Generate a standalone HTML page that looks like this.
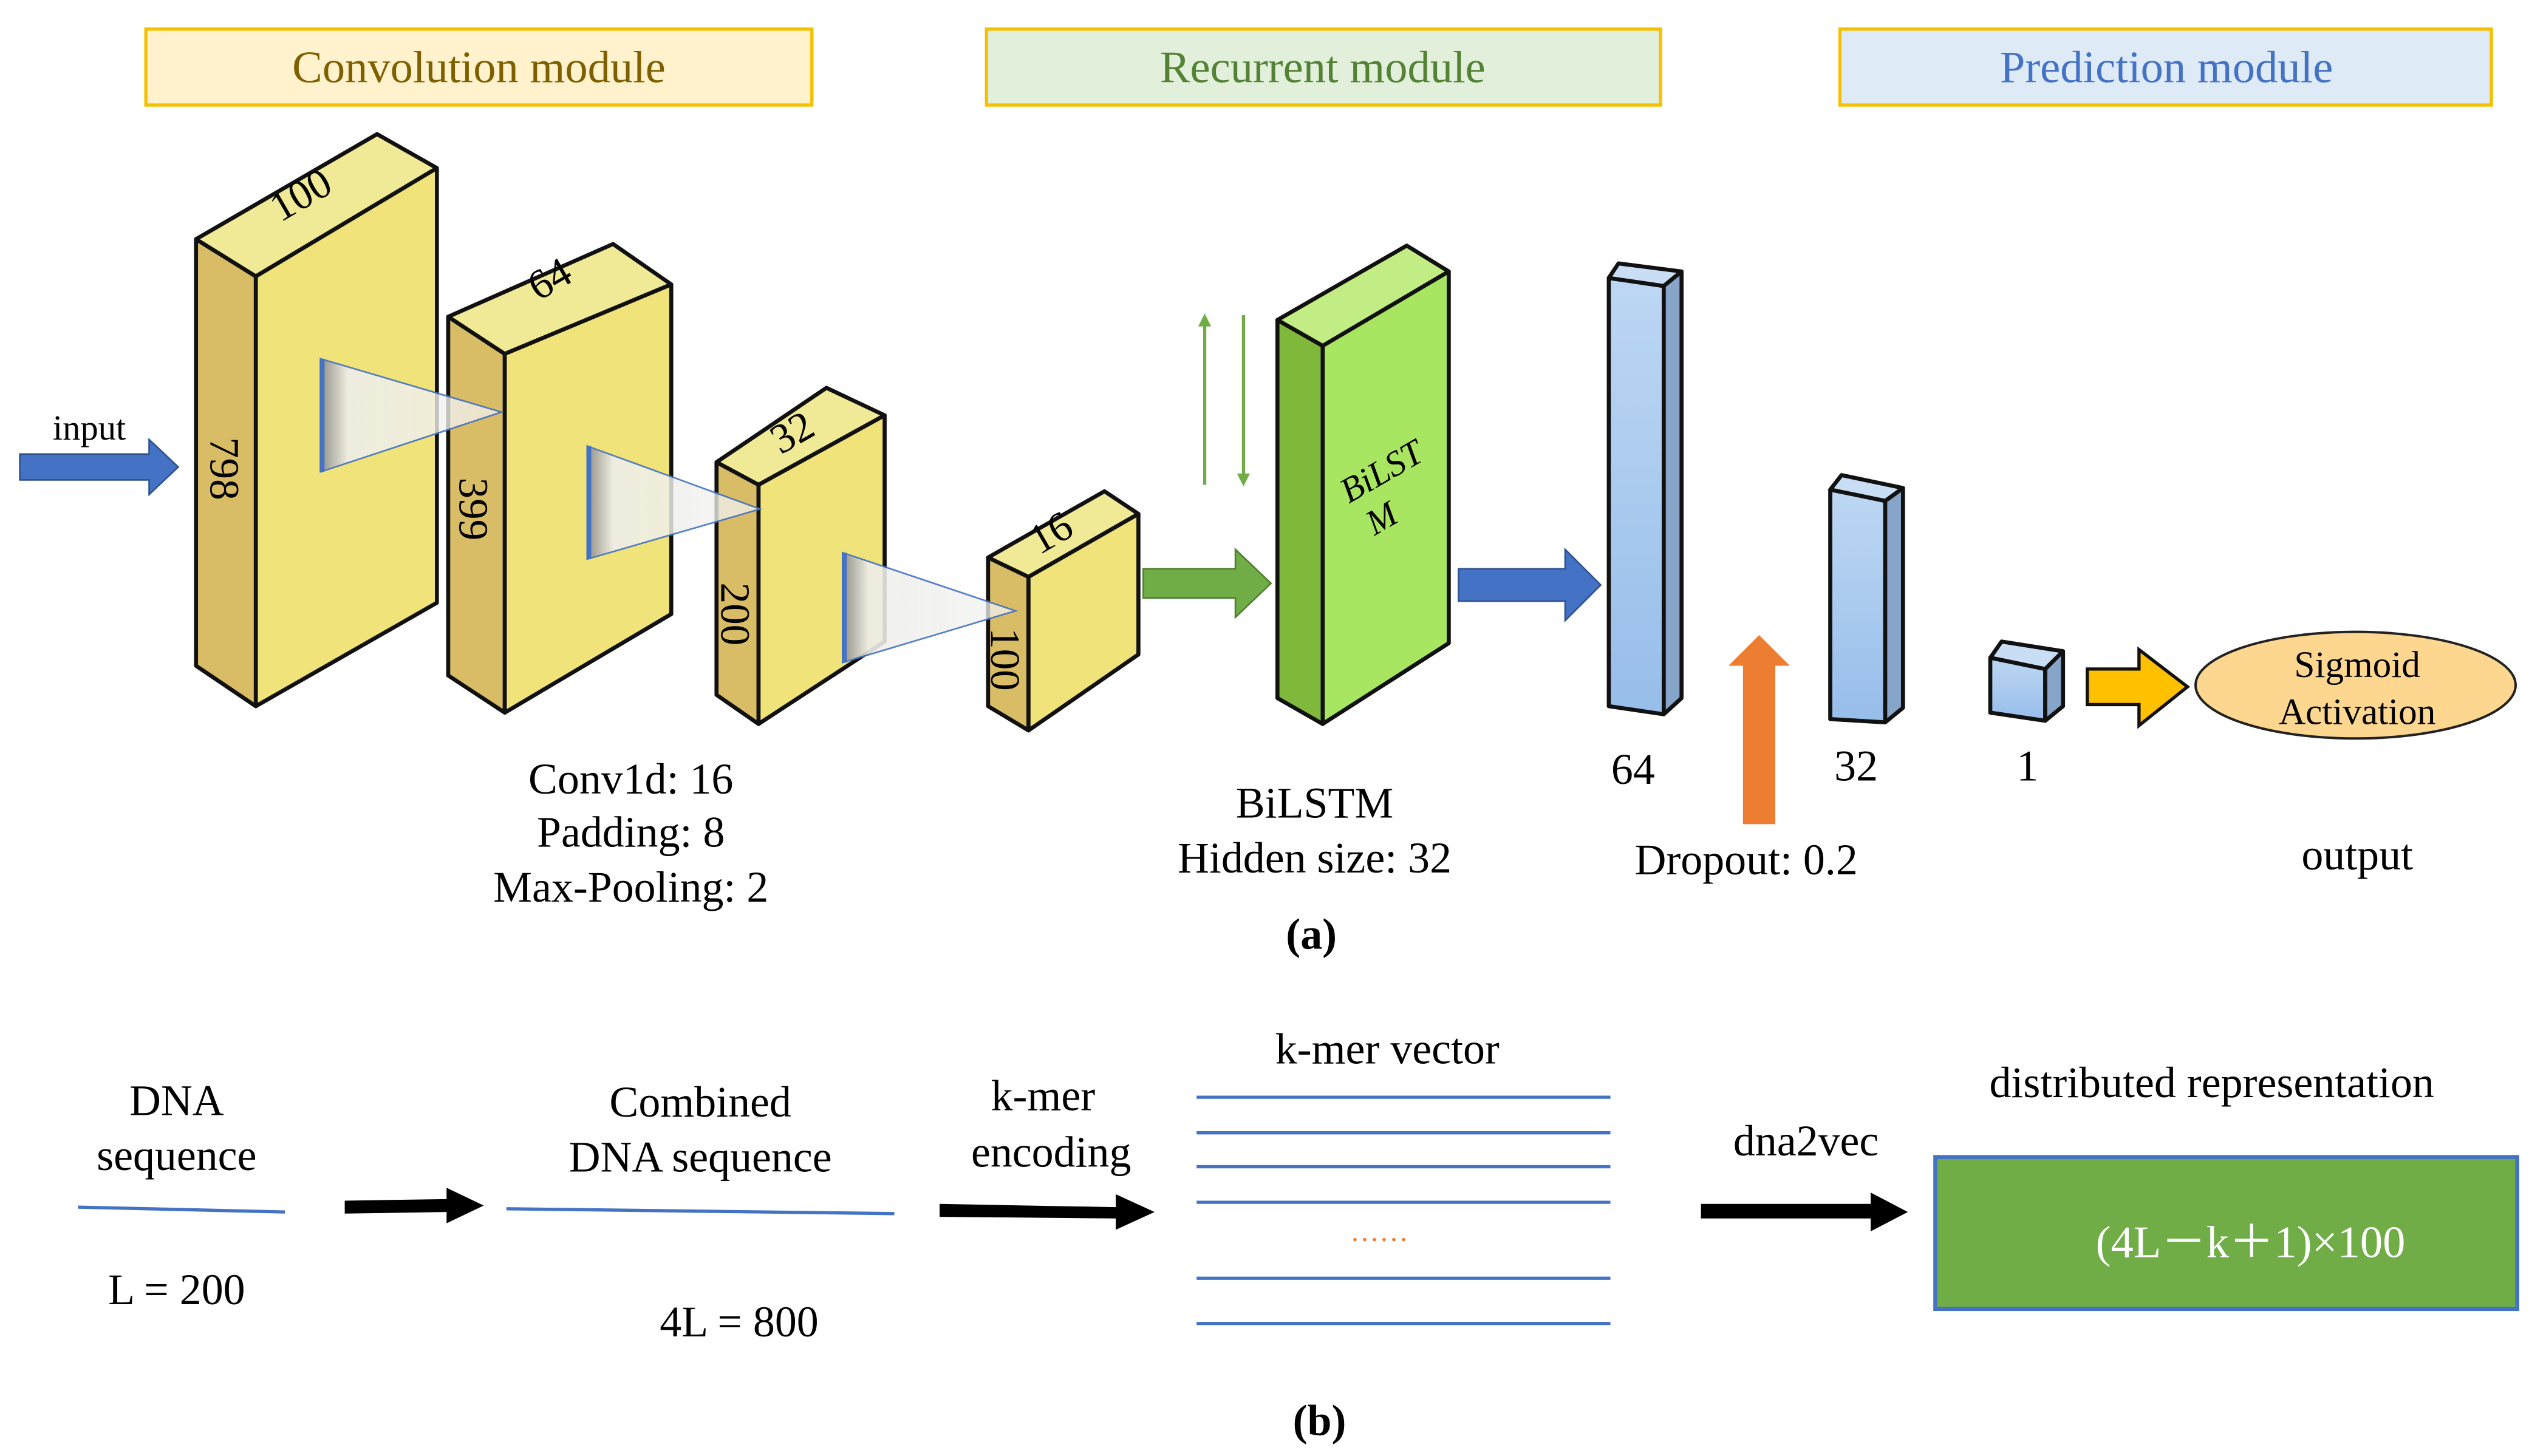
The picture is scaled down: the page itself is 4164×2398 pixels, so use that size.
<!DOCTYPE html>
<html><head><style>html,body{margin:0;padding:0;background:#fff;width:4164px;height:2398px;overflow:hidden}</style></head>
<body>
<svg width="4164" height="2398" viewBox="0 0 1564 901" xmlns="http://www.w3.org/2000/svg" font-family="Liberation Serif, serif">
<defs>
<linearGradient id="bl" x1="0" y1="0" x2="0" y2="1"><stop offset="0" stop-color="#bdd7f3"/><stop offset="1" stop-color="#97bdea"/></linearGradient>
<linearGradient id="tri" x1="0" y1="0" x2="1" y2="0"><stop offset="0" stop-color="#888"/><stop offset="0.15" stop-color="#eeeeea"/><stop offset="1" stop-color="#f2f2f2" stop-opacity="0.8"/></linearGradient>
</defs>
<rect x="90" y="18" width="412" height="47" fill="#fff2cc" stroke="#f5c000" stroke-width="2"/>
<text x="296" y="51" font-size="28" fill="#7f6000" text-anchor="middle">Convolution module</text>
<rect x="610" y="18" width="417" height="47" fill="#e2efda" stroke="#f5c000" stroke-width="2"/>
<text x="818" y="51" font-size="28" fill="#548235" text-anchor="middle">Recurrent module</text>
<rect x="1138" y="18" width="403" height="47" fill="#deebf7" stroke="#f5c000" stroke-width="2"/>
<text x="1340" y="51" font-size="28" fill="#4472c4" text-anchor="middle">Prediction module</text>

<text x="55" y="272" font-size="22" text-anchor="middle">input</text>
<polygon points="12,281 92,281 92,272 110,289 92,306 92,297 12,297" fill="#4472c4" stroke="#2f528f" stroke-width="1"/>

<g stroke="#111" stroke-width="2.5" stroke-linejoin="round">
<polygon points="121,148 158,171 158,437 121,412" fill="#d9bd66"/>
<polygon points="121,148 233,83 270,104 158,171" fill="#f0ea97"/>
<polygon points="158,171 270,104 270,373 158,437" fill="#f0e37a"/>
<polygon points="277,196 312,219 312,441 277,418" fill="#d9bd66"/>
<polygon points="277,196 379,151 415,176 312,219" fill="#f0ea97"/>
<polygon points="312,219 415,176 415,380 312,441" fill="#f0e37a"/>
<polygon points="443,286 469,300 469,448 443,430" fill="#d9bd66"/>
<polygon points="443,286 511,240 547,257 469,300" fill="#f0ea97"/>
<polygon points="469,300 547,257 547,397 469,448" fill="#f0e37a"/>
<polygon points="611,345 636,357 636,452 611,437" fill="#d9bd66"/>
<polygon points="611,345 683,304 704,318 636,357" fill="#f0ea97"/>
<polygon points="636,357 704,318 704,405 636,452" fill="#f0e37a"/>
</g>
<g stroke="#4472c4" stroke-width="1">
<polygon points="198,222 310,255 198,292" fill="url(#tri)" opacity="0.9"/>
<polygon points="363,276 470,315 363,346" fill="url(#tri)" opacity="0.9"/>
<polygon points="521,342 628,378 521,410" fill="url(#tri)" opacity="0.9"/>
</g>
<line x1="199" y1="222" x2="199" y2="292" stroke="#4472c4" stroke-width="3"/>
<line x1="364" y1="276" x2="364" y2="346" stroke="#4472c4" stroke-width="3"/>
<line x1="522" y1="342" x2="522" y2="410" stroke="#4472c4" stroke-width="3"/>
<g font-size="26">
<text transform="translate(130,290) rotate(90)" text-anchor="middle">798</text>
<text transform="translate(284,315) rotate(90)" text-anchor="middle">399</text>
<text transform="translate(446,380) rotate(90)" text-anchor="middle">200</text>
<text transform="translate(613,408) rotate(90)" text-anchor="middle">100</text>
<text transform="translate(190,128) rotate(-30)" text-anchor="middle">100</text>
<text transform="translate(344,180) rotate(-30)" text-anchor="middle">64</text>
<text transform="translate(494,275) rotate(-30)" text-anchor="middle">32</text>
<text transform="translate(654,337) rotate(-30)" text-anchor="middle">16</text>
</g>
<g font-size="27" text-anchor="middle">
<text x="390" y="491">Conv1d: 16</text>
<text x="390" y="524">Padding: 8</text>
<text x="390" y="558">Max-Pooling: 2</text>
<text x="813" y="506">BiLSTM</text>
<text x="813" y="540">Hidden size: 32</text>
<text x="1010" y="485">64</text>
<text x="1148" y="483">32</text>
<text x="1254" y="483">1</text>
<text x="1080" y="541">Dropout: 0.2</text>
<text x="1458" y="538">output</text>
<text x="811" y="587" font-weight="bold">(a)</text>
</g>

<polygon points="707,352 764,352 764,340 786,361 764,382 764,370 707,370" fill="#70ad47" stroke="#507e32" stroke-width="1"/>
<g stroke="#70ad47" stroke-width="2" fill="#70ad47">
<line x1="745" y1="300" x2="745" y2="200"/><polygon points="741,202 749,202 745,194" stroke="none"/>
<line x1="769" y1="195" x2="769" y2="295"/><polygon points="765,293 773,293 769,301" stroke="none"/>
</g>
<g stroke="#111" stroke-width="2.5" stroke-linejoin="round">
<polygon points="790,198 818,214 818,448 790,432" fill="#7fb83a"/>
<polygon points="790,198 870,152 896,168 818,214" fill="#c2ec84"/>
<polygon points="818,214 896,168 896,398 818,448" fill="#a8e661"/>
</g>
<text transform="translate(858,298) rotate(-30)" font-size="22" font-style="italic" text-anchor="middle">BiLST</text>
<text transform="translate(858,327) rotate(-30)" font-size="22" font-style="italic" text-anchor="middle">M</text>
<polygon points="902,352 968,352 968,340 990,362 968,384 968,372 902,372" fill="#4472c4" stroke="#2f528f" stroke-width="1"/>
<g stroke="#111" stroke-width="2.5" stroke-linejoin="round">
<polygon points="995,172 1029,177 1029,442 995,437" fill="url(#bl)"/>
<polygon points="995,172 1001,163 1040,168 1029,177" fill="#c9def5"/>
<polygon points="1029,177 1040,168 1040,432 1029,442" fill="#87a5c8"/>
<polygon points="1132,303 1139,294 1177,302 1166,310" fill="#c9def5"/>
<polygon points="1132,303 1166,310 1166,447 1132,445" fill="url(#bl)"/>
<polygon points="1166,310 1177,302 1177,438 1166,447" fill="#87a5c8"/>
<polygon points="1231,407 1265,414 1265,446 1231,441" fill="url(#bl)"/>
<polygon points="1231,407 1238,397 1276,403 1265,414" fill="#c9def5"/>
<polygon points="1265,414 1276,403 1276,437 1265,446" fill="#87a5c8"/>
</g>
<polygon points="1078,510 1078,412 1069,412 1088,393 1107,412 1098,412 1098,510" fill="#ed7d31"/>
<polygon points="1291,414 1323,414 1323,402 1353,425 1323,449 1323,436 1291,436" fill="#ffc000" stroke="#111" stroke-width="2"/>
<ellipse cx="1457" cy="424" rx="99" ry="33" fill="#fdd68f" stroke="#222" stroke-width="1.5"/>
<text x="1458" y="419" font-size="23" text-anchor="middle">Sigmoid</text>
<text x="1458" y="448" font-size="23" text-anchor="middle">Activation</text>

<g font-size="27" text-anchor="middle">
<text x="109" y="690">DNA</text>
<text x="109" y="724">sequence</text>
<text x="109" y="807">L = 200</text>
<text x="433" y="691">Combined</text>
<text x="433" y="725">DNA sequence</text>
<text x="457" y="827">4L = 800</text>
<text x="645" y="687">k-mer</text>
<text x="650" y="722">encoding</text>
<text x="858" y="658">k-mer  vector</text>
<text x="1117" y="715">dna2vec</text>
<text x="1368" y="679">distributed representation</text>
<text x="816" y="888" font-weight="bold">(b)</text>
</g>
<g stroke="#4472c4" stroke-width="2">
<line x1="48" y1="747" x2="176" y2="750"/>
<line x1="313" y1="748" x2="553" y2="751"/>
<line x1="740" y1="679" x2="996" y2="679"/>
<line x1="740" y1="701" x2="996" y2="701"/>
<line x1="740" y1="722" x2="996" y2="722"/>
<line x1="740" y1="744" x2="996" y2="744"/>
<line x1="740" y1="791" x2="996" y2="791"/>
<line x1="740" y1="819" x2="996" y2="819"/>
</g>
<text x="853" y="768" font-size="18" fill="#ed7d31" text-anchor="middle">……</text>
<g fill="#000">
<polygon points="213,743 276,742 276,735 299,746 276,757 276,750 213,751"/>
<polygon points="581,745 690,747 690,739 714,750 690,761 690,754 581,753"/>
<polygon points="1052,745 1157,745 1157,738 1180,750 1157,762 1157,754 1052,754"/>
</g>
<rect x="1197" y="716" width="360" height="94" fill="#70ad47" stroke="#4472c4" stroke-width="2.5"/>
<text x="1392" y="778" font-size="28" fill="#fff" text-anchor="middle">(4L－k＋1)×100</text>
</svg>
</body></html>
